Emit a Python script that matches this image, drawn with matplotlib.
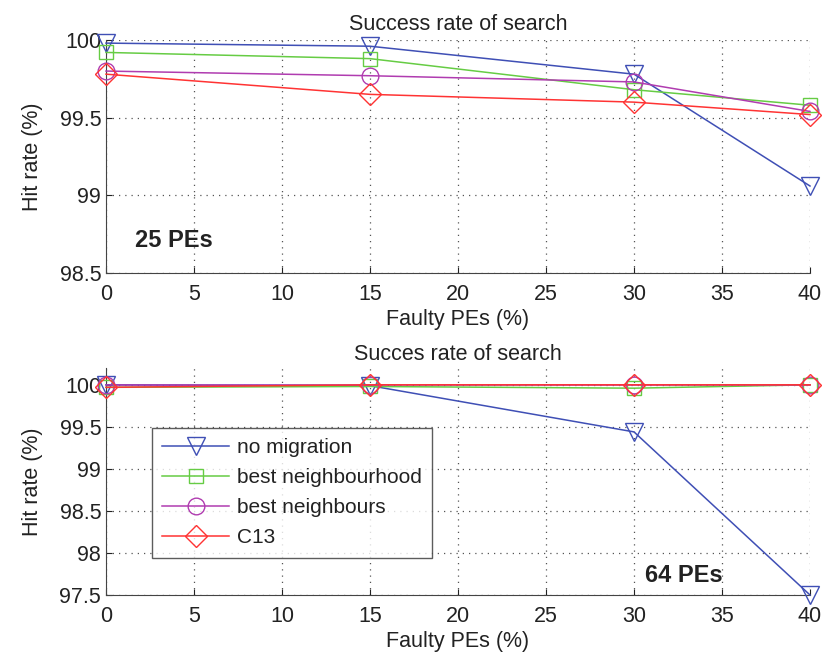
import matplotlib
matplotlib.use("Agg")
import matplotlib.pyplot as plt

plt.rcParams['font.family'] = ['Liberation Sans', 'DejaVu Sans']

# faulty PE percentages shared by both runs
faulty = [0, 15, 30, 40]

# 25 PEs
hit25_nomig = [99.98, 99.96, 99.78, 99.06]
hit25_bhood = [99.92, 99.88, 99.68, 99.58]
hit25_bnb = [99.80, 99.77, 99.73, 99.54]
hit25_c13 = [99.78, 99.65, 99.60, 99.52]

# 64 PEs
hit64_nomig = [100.0, 99.99, 99.44, 97.5]
hit64_bhood = [99.97, 99.98, 99.96, 100.0]
hit64_bnb = [100.0, 100.0, 100.0, 100.0]
hit64_c13 = [99.97, 100.0, 100.0, 100.0]

labels = ['no migration', 'best neighbourhood', 'best neighbours', 'C13']
colors = ['#3f4fb5', '#66cc44', '#b03cb0', '#ff3333']
markers = ['v', 's', 'o', 'D']
msizes = [12.5, 10, 12, 11]

FS = 15.5


def style_axes(ax, ylim, yticks):
    ax.set_xlim(0, 40)
    ax.set_ylim(*ylim)
    ax.set_xticks(range(0, 41, 5))
    ax.set_yticks(yticks)
    ax.set_yticklabels([('%g' % v) for v in yticks])
    ax.grid(True, linestyle=(0, (1, 4)), color='#555555', linewidth=0.9)
    ax.spines['top'].set_visible(False)
    ax.spines['right'].set_visible(False)
    ax.spines['left'].set_color('#444444')
    ax.spines['bottom'].set_color('#444444')
    ax.tick_params(direction='in', length=4, labelsize=FS, colors='#222222')
    ax.tick_params(axis='x', pad=8)
    ax.set_xlabel('Faulty PEs (%)', fontsize=FS, color='#222222', labelpad=3)
    ax.set_ylabel('Hit rate (%)', fontsize=FS, color='#222222', labelpad=12)


fig = plt.figure(figsize=(8.22, 6.61), dpi=100)
ax1 = fig.add_axes([106 / 822, 1 - 273 / 661, 704 / 822, 233 / 661])
ax2 = fig.add_axes([106 / 822, 1 - 595 / 661, 704 / 822, 227 / 661])

series25 = [hit25_nomig, hit25_bhood, hit25_bnb, hit25_c13]
series64 = [hit64_nomig, hit64_bhood, hit64_bnb, hit64_c13]

for ys, lab, c, m, ms in zip(series25, labels, colors, markers, msizes):
    ax1.plot(faulty, ys, color=c, marker=m, markersize=ms, markerfacecolor='none',
             markeredgecolor=c, linewidth=1.1, label=lab, clip_on=False, zorder=3)
for ys, lab, c, m, ms in zip(series64, labels, colors, markers, msizes):
    ax2.plot(faulty, ys, color=c, marker=m, markersize=ms, markerfacecolor='none',
             markeredgecolor=c, linewidth=1.1, label=lab, clip_on=False, zorder=3)

style_axes(ax1, (98.5, 100), [98.5, 99, 99.5, 100])
style_axes(ax2, (97.5, 100.2), [97.5, 98, 98.5, 99, 99.5, 100])

ax1.set_title('Success rate of search', fontsize=FS, color='#222222', pad=7)
ax2.set_title('Succes rate of search', fontsize=FS, color='#222222', pad=6)

ax1.text(1.65, 98.71, '25 PEs', fontsize=17, fontweight='bold', va='center', color='#222222')
ax2.text(30.6, 97.73, '64 PEs', fontsize=17, fontweight='bold', va='center', color='#222222')

leg = ax2.legend(loc='upper left', bbox_to_anchor=(0.065, 0.736), fontsize=15,
                 frameon=True, fancybox=False, handlelength=3.2, handletextpad=0.4,
                 borderaxespad=0, labelspacing=0.53, borderpad=0.5)
leg.get_frame().set_edgecolor('#333333')
leg.get_frame().set_linewidth(1.0)
for t in leg.get_texts():
    t.set_color('#222222')

fig.savefig('out.png', dpi=100)
